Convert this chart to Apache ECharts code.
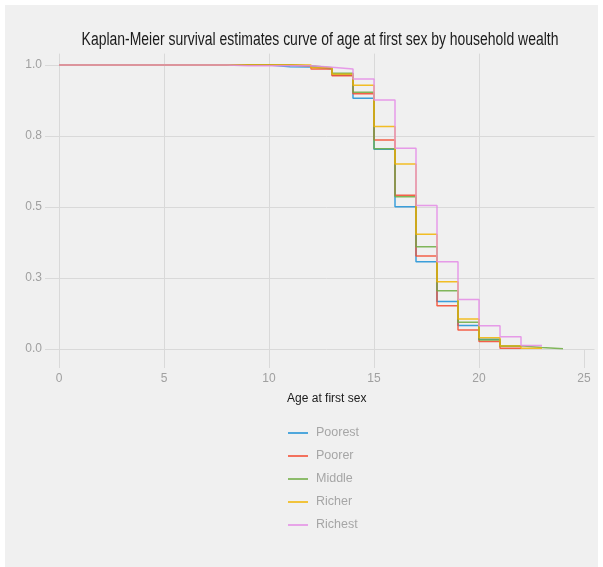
<!DOCTYPE html>
<html>
<head>
<meta charset="utf-8">
<script src="https://cdn.jsdelivr.net/npm/echarts@6/dist/echarts.min.js"></script>
<style>
    html, body { margin: 0; padding: 0; background: #ffffff; }
    #bg { position: absolute; left: 5px; top: 5px; right: 5px; bottom: 0; background: #f0f0f0; }
    #main { position: absolute; left: 0; top: 0; width: 603px; height: 567px; }
</style>
</head>
<body>
<div id="bg"></div>
<div id="main"></div>
<script>
    // 年龄（首次性行为年龄）
    var ages = [0, 1, 2, 3, 4, 5, 6, 7, 8, 9, 10, 11, 12, 13, 14, 15, 16, 17, 18, 19, 20, 21, 22, 23, 24];
    var groupNames = ['Poorest', 'Poorer', 'Middle', 'Richer', 'Richest'];
    var groupColors = ['#1a8fd6', '#f4472c', '#6cab3f', '#f2b400', '#e48be6'];

    // KM 生存估计，每个年龄起点的值
    var poorest = [1, 1, 1, 1, 1, 1, 1, 1, 1, 1, 0.994, 0.993, 0.987, 0.965, 0.883, 0.703, 0.501, 0.307, 0.167, 0.083, 0.034, 0.010, 0.010];
    var poorer = [1, 1, 1, 1, 1, 1, 1, 1, 1, 1, 1, 0.996, 0.986, 0.962, 0.899, 0.736, 0.541, 0.327, 0.152, 0.067, 0.026, 0.003, 0.003];
    var middle = [1, 1, 1, 1, 1, 1, 1, 1, 1, 1, 1, 0.997, 0.990, 0.971, 0.904, 0.705, 0.536, 0.360, 0.205, 0.094, 0.032, 0.011, 0.005, 0.001, 0.001];
    var richer = [1, 1, 1, 1, 1, 1, 1, 1, 1, 1, 1, 1, 0.990, 0.967, 0.929, 0.783, 0.651, 0.404, 0.237, 0.106, 0.040, 0.011, 0.003, 0.003];
    var richest = [1, 1, 1, 1, 1, 1, 1, 1, 0.997, 0.997, 0.997, 0.997, 0.992, 0.986, 0.951, 0.877, 0.707, 0.505, 0.307, 0.174, 0.082, 0.043, 0.012, 0.012];

    var xTicks = [0, 5, 10, 15, 20, 25];
    var yTicks = [0, 0.25, 0.5, 0.75, 1];

    var titleText = 'Kaplan-Meier survival estimates curve of age at first sex by household wealth';
    var font = '"Liberation Sans", Arial, sans-serif';
    var gridColor = '#d9d9d9';

    var toPairs = function(vals) {
        var out = [];
        for (var i = 0; i < vals.length; i++) {
            out.push([ages[i], vals[i]]);
        }
        return out;
    };

    var seriesVals = [poorest, poorer, middle, richer, richest];
    var series = [];
    for (var i = 0; i < seriesVals.length; i++) {
        series.push({
            type: 'line',
            name: groupNames[i],
            step: 'end',
            symbol: 'none',
            color: groupColors[i],
            lineStyle: { width: 1.5, opacity: 0.85 },
            data: toPairs(seriesVals[i])
        });
    }

    var chart = echarts.init(document.getElementById('main'));
    var option = {
        animation: false,
        // 标题用窄体效果：横向压缩
        graphic: [{
            type: 'text',
            x: 320,
            y: 40,
            scaleX: 0.775,
            style: {
                text: titleText,
                fontFamily: font,
                fontSize: 18,
                fill: '#1a1a1a',
                align: 'center',
                verticalAlign: 'middle'
            }
        }],
        legend: {
            orient: 'vertical',
            left: 283,
            top: 421,
            itemWidth: 20,
            itemHeight: 14,
            itemGap: 9,
            icon: 'path://M0,6H20V7.5H0Z',
            data: groupNames,
            textStyle: { fontFamily: font, fontSize: 12.5, lineHeight: 14, color: '#a6a6a6', padding: [0, 0, 0, 3] }
        },
        grid: {
            left: 59,
            right: 8.5,
            top: 53.6,
            bottom: 218
        },
        xAxis: {
            type: 'value',
            min: 0,
            max: 25.5,
            interval: 5,
            name: 'Age at first sex',
            nameLocation: 'middle',
            nameGap: 44,
            nameTextStyle: { fontFamily: font, fontSize: 12, color: '#1a1a1a' },
            axisLine: { show: false },
            axisTick: { show: true, length: 19, customValues: xTicks, lineStyle: { color: gridColor } },
            axisLabel: { customValues: xTicks, margin: 24, fontFamily: font, fontSize: 12, color: '#a0a0a0' },
            splitLine: { show: true, showMaxLine: false, lineStyle: { color: gridColor } }
        },
        yAxis: {
            type: 'value',
            min: 0,
            max: 1.04,
            interval: 0.25,
            axisLine: { show: false },
            axisTick: { show: true, length: 14, customValues: yTicks, lineStyle: { color: gridColor } },
            axisLabel: {
                customValues: yTicks,
                margin: 17,
                fontFamily: font,
                fontSize: 12,
                color: '#a0a0a0',
                formatter: function(v) { return v.toFixed(1); }
            },
            splitLine: { show: true, showMaxLine: false, lineStyle: { color: gridColor } }
        },
        series: series
    };
    chart.setOption(option);
</script>
</body>
</html>
